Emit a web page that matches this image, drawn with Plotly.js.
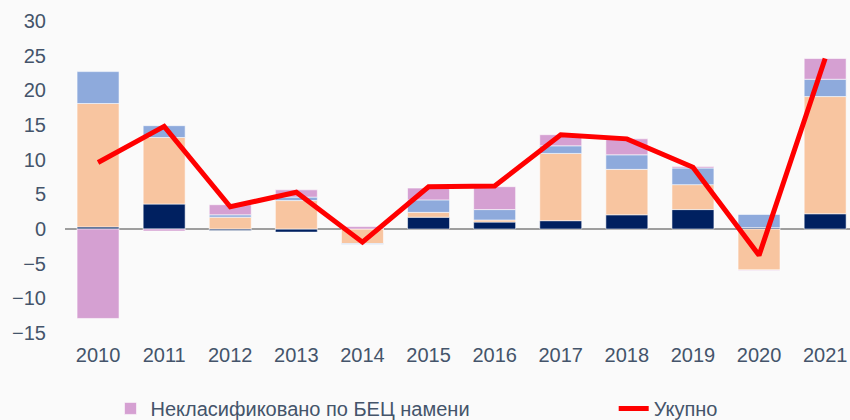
<!DOCTYPE html>
<html>
<head>
<meta charset="utf-8">
<script src="https://cdn.plot.ly/plotly-3.0.1.min.js"></script>
<style>html,body{margin:0;padding:0;background:#fafafa;overflow:hidden}</style>
</head>
<body>
<div id="chart" style="width:850px;height:420px"></div>
<script>
const years = ["2010","2011","2012","2013","2014","2015","2016","2017","2018","2019","2020","2021"];
const capitalGoods = [0.3, 3.6, -0.2, -0.45, 0, 1.7, 1.0, 1.2, 2.05, 2.8, 0.2, 2.2];
const intermediateGoods = [17.8, 9.6, 1.7, 4.1, -2.1, 0.7, 0.3, 9.7, 6.55, 3.6, -5.9, 16.9];
const consumerGoods = [4.6, 1.7, 0.35, 0.5, -0.1, 1.8, 1.5, 1.1, 2.1, 2.4, 1.9, 2.5];
const unclassified = [-12.9, -0.3, 1.45, 1.05, 0.35, 1.7, 3.3, 1.6, 2.3, 0.2, -0.1, 3.0];
const total = [9.6, 14.8, 3.2, 5.3, -1.9, 6.1, 6.2, 13.6, 13.0, 8.9, -3.8, 24.6];
const yTicks = [-15, -10, -5, 0, 5, 10, 15, 20, 25, 30];

const edge = {color: 'rgba(255,255,255,0.55)', width: 1};
function barTrace(name, vals, color, show) {
  return {type: 'bar', x: years, y: vals, name: name, showlegend: show,
          marker: {color: color, line: edge}};
}
const traces = [
  barTrace('Средства за рад', capitalGoods, '#002060', false),
  barTrace('Репродукциони материјал', intermediateGoods, '#F8C5A0', false),
  barTrace('Роба за широку потрошњу', consumerGoods, '#8EAADC', false),
  barTrace('Некласификовано по БЕЦ намени', unclassified, '#D5A0D2', true),
  {type: 'scatter', mode: 'lines', x: years, y: total, name: 'Укупно',
   legend: 'legend2', line: {color: '#FF0000', width: 5}}
];
const legendBase = {orientation: 'h', xref: 'container', yref: 'container',
  y: 0.074, xanchor: 'left', yanchor: 'top',
  font: {size: 20, color: '#44546A'}, bgcolor: 'rgba(0,0,0,0)'};
const layout = {
  width: 850, height: 420,
  margin: {l: 65, r: 0, t: 21, b: 87},
  paper_bgcolor: '#fafafa', plot_bgcolor: '#fafafa',
  barmode: 'relative', bargap: 0.365,
  hovermode: false,
  font: {family: '"Liberation Sans", Arial, sans-serif', size: 20, color: '#44546A'},
  xaxis: {type: 'category', range: [-0.5, 11.376], showgrid: false, showline: false,
          ticks: '', ticklabelstandoff: 8, fixedrange: true},
  yaxis: {range: [-15, 30], tickvals: yTicks, showgrid: false, showline: false,
          zeroline: true, zerolinecolor: '#9e9e9e', zerolinewidth: 1.5,
          ticks: '', ticklabelstandoff: 18, fixedrange: true},
  legend: Object.assign({}, legendBase, {x: 0.13}),
  legend2: Object.assign({}, legendBase, {x: 0.722})
};
Plotly.newPlot('chart', traces, layout, {displayModeBar: false, staticPlot: true});
</script>
</body>
</html>
